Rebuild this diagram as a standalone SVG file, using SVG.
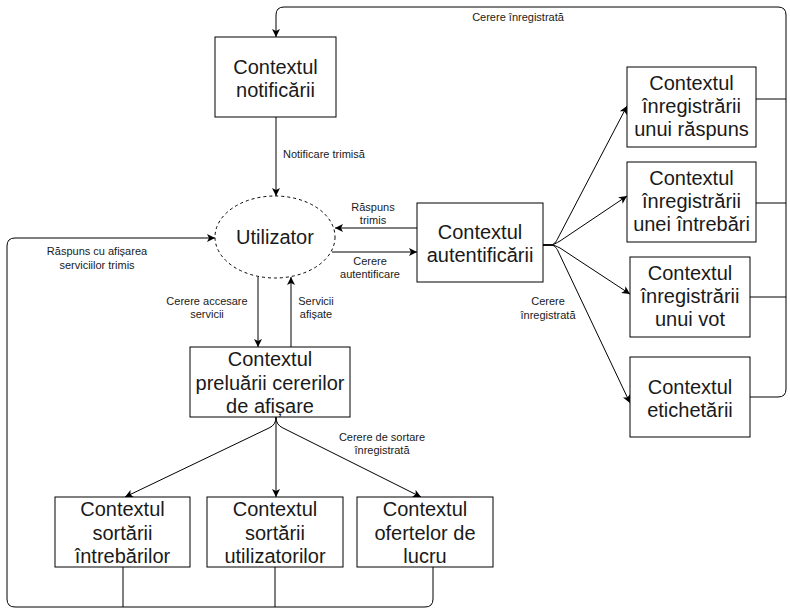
<svg xmlns="http://www.w3.org/2000/svg" width="790" height="609" viewBox="0 0 790 609">
<defs>
<marker id="arr" markerUnits="userSpaceOnUse" markerWidth="10" markerHeight="9" refX="8" refY="4" orient="auto">
<path d="M0,0 L8,4 L0,8 L2,4 Z" fill="#000"/>
</marker>
<style>
.box{fill:#fff;stroke:#000;stroke-width:1}
.t{font-family:"Liberation Sans",Arial,Helvetica,sans-serif;font-size:20px;fill:#1a1a1a;text-anchor:middle}
.l{font-family:"Liberation Sans",Arial,Helvetica,sans-serif;font-size:11px;fill:#1a1a1a;text-anchor:middle}
.c{fill:none;stroke:#000;stroke-width:1}
.a{marker-end:url(#arr)}
</style>
</defs>
<rect width="790" height="609" fill="#fff"/>
<g id="connectors">
<path class="c" d="M756,99 H786 M756,203 H786 M750,297 H786"/>
<path class="c a" d="M750,397 H778 Q786,397 786,389 V15 Q786,7 778,7 H284 Q276,7 276,15 V37"/>
<path class="c a" d="M276,117 V196"/>
<path class="c a" d="M417,228 H335"/>
<path class="c a" d="M332,252 H417"/>
<path class="c a" d="M258,277 V347"/>
<path class="c a" d="M291,347 V277"/>
<path class="c" d="M123,567 V607 M275,567 V607"/>
<path class="c a" d="M433,567 V599 Q433,607 425,607 H15 Q7,607 7,599 V246 Q7,238 15,238 H215"/>
<path class="c a" d="M543,245 H550 C554,245 556,242 558,238 L627,106"/>
<path class="c a" d="M543,245 H550 C554,245 556,243 560,241 L627,196"/>
<path class="c a" d="M543,245 H550 C554,245 556,246 560,248 L630,294"/>
<path class="c a" d="M543,245 H550 C554,245 556,247 558,251 L630,403"/>
<path class="c a" d="M276,417 V497"/>
<path class="c a" d="M276,417 Q276,425 269,428 L125,497"/>
<path class="c a" d="M276,417 Q276,425 283,428 L421,497"/>
<text class="l" x="518" y="21">Cerere înregistrată</text>
<text class="l" x="283" y="158" style="text-anchor:start">Notificare trimisă</text>
<text class="l" x="373" y="211">Răspuns</text>
<text class="l" x="373" y="224">trimis</text>
<text class="l" x="370" y="265">Cerere</text>
<text class="l" x="370" y="278">autentificare</text>
<text class="l" x="97" y="255">Răspuns cu afișarea</text>
<text class="l" x="97" y="269">serviciilor trimis</text>
<text class="l" x="207" y="305">Cerere accesare</text>
<text class="l" x="207" y="318">servicii</text>
<text class="l" x="316" y="305">Servicii</text>
<text class="l" x="316" y="318">afișate</text>
<text class="l" x="548" y="305">Cerere</text>
<text class="l" x="548" y="319">înregistrată</text>
<text class="l" x="382" y="441">Cerere de sortare</text>
<text class="l" x="382" y="454">înregistrată</text>
</g>
<g id="notificare">
<rect class="box" x="215" y="37" width="121" height="80"/>
<text class="t" x="275.5" y="74">Contextul</text>
<text class="t" x="275.5" y="97">notificării</text>
</g>
<g id="utilizator">
<ellipse cx="275" cy="237" rx="60" ry="41" fill="#fff" stroke="#000" stroke-width="1" stroke-dasharray="3 3"/>
<text class="t" x="275" y="244">Utilizator</text>
</g>
<g id="autentificare">
<rect class="box" x="417" y="203" width="126" height="79"/>
<text class="t" x="480" y="238.5">Contextul</text>
<text class="t" x="480" y="262">autentificării</text>
</g>
<g id="raspuns">
<rect class="box" x="627" y="67" width="129" height="80"/>
<text class="t" x="691.5" y="90">Contextul</text>
<text class="t" x="691.5" y="113">înregistrării</text>
<text class="t" x="691.5" y="136">unui răspuns</text>
</g>
<g id="intrebare">
<rect class="box" x="627" y="162" width="129" height="80"/>
<text class="t" x="691.5" y="185">Contextul</text>
<text class="t" x="691.5" y="208">înregistrării</text>
<text class="t" x="691.5" y="231">unei întrebări</text>
</g>
<g id="vot">
<rect class="box" x="630" y="257" width="120" height="80"/>
<text class="t" x="690" y="280">Contextul</text>
<text class="t" x="690" y="303">înregistrării</text>
<text class="t" x="690" y="326">unui vot</text>
</g>
<g id="etichetare">
<rect class="box" x="630" y="357" width="120" height="80"/>
<text class="t" x="690" y="393.5">Contextul</text>
<text class="t" x="690" y="417">etichetării</text>
</g>
<g id="preluare">
<rect class="box" x="190" y="347" width="160" height="70"/>
<text class="t" x="270" y="366">Contextul</text>
<text class="t" x="270" y="390">preluării cererilor</text>
<text class="t" x="270" y="413">de afișare</text>
</g>
<g id="sortare-intrebari">
<rect class="box" x="55" y="497" width="135" height="70"/>
<text class="t" x="122.5" y="516">Contextul</text>
<text class="t" x="122.5" y="540">sortării</text>
<text class="t" x="122.5" y="563">întrebărilor</text>
</g>
<g id="sortare-utilizatori">
<rect class="box" x="207" y="497" width="136" height="70"/>
<text class="t" x="275" y="516">Contextul</text>
<text class="t" x="275" y="540">sortării</text>
<text class="t" x="275" y="563">utilizatorilor</text>
</g>
<g id="oferte">
<rect class="box" x="357" y="497" width="136" height="70"/>
<text class="t" x="425" y="516">Contextul</text>
<text class="t" x="425" y="540">ofertelor de</text>
<text class="t" x="425" y="563">lucru</text>
</g>
</svg>
